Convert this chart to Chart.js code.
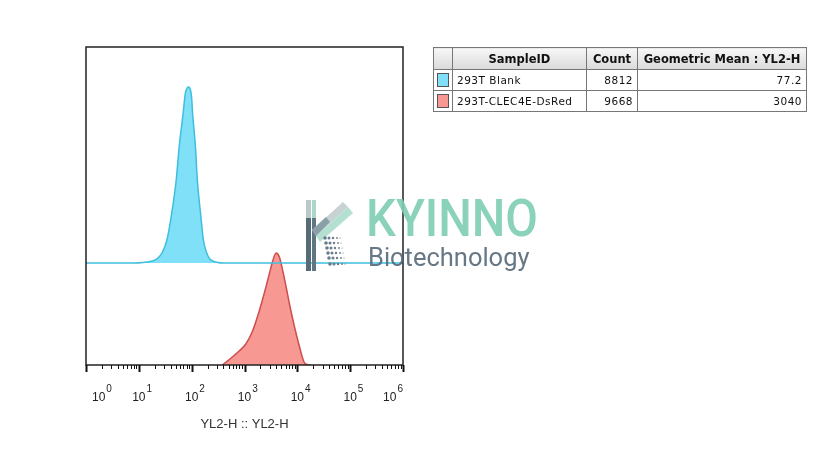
<!DOCTYPE html>
<html>
<head>
<meta charset="utf-8">
<script src="https://cdn.jsdelivr.net/npm/chart.js@4.4.1/dist/chart.umd.min.js"></script>
<style>
  body { margin: 0; background: #fff; }
  #wrap { position: relative; width: 836px; height: 472px; overflow: hidden; }
  #hist { position: absolute; left: 0; top: 0; }
  table.stats {
    position: absolute; left: 433px; top: 47px;
    border-collapse: collapse; border: 1px solid #444;
    font-family: "DejaVu Sans", Verdana, sans-serif; color: #111;
  }
  table.stats th {
    height: 21px; font-size: 11.5px; font-weight: bold; text-align: center;
    background: linear-gradient(#f7f7f7, #dadada);
    border: 1px solid #777; padding: 0 2px;
  }
  table.stats td {
    height: 20px; font-size: 10.5px; letter-spacing: 0.5px;
    border: 1px solid #777; padding: 0 4px;
  }
  table.stats td.num { text-align: right; }
  .sw { display: inline-block; width: 10px; height: 12px; border: 1px solid #555; vertical-align: middle; }
  #logo { position: absolute; left: 298px; top: 196px; pointer-events: none; }
  #logo .k {
    position: absolute; left: 68px; top: -3px; font-family: Roboto, sans-serif; font-weight: 500;
    font-size: 52px; line-height: 52px; color: rgba(125, 205, 178, 0.9);
    transform: scaleX(0.91); transform-origin: left top;
  }
  #logo .b {
    position: absolute; left: 70px; top: 46px; font-family: Roboto, sans-serif;
    font-size: 26px; line-height: 30px; color: rgba(85, 104, 120, 0.9);
    transform: scaleX(0.98); transform-origin: left top;
  }
</style>
</head>
<body>
<div id="wrap">
  <canvas id="hist" width="836" height="472"></canvas>

  <table class="stats" id="stats">
    <tr><th style="width:12px"></th><th style="width:129px">SampleID</th><th style="width:46px">Count</th><th style="width:164px">Geometric Mean : YL2-H</th></tr>
  </table>

  <div id="logo">
    <svg width="70" height="80" viewBox="0 0 70 80">
      <rect x="8" y="4" width="5" height="18" fill="#b9c9c9"/>
      <rect x="14" y="4" width="4" height="18" fill="#a9d8c8"/>
      <rect x="8" y="22" width="5" height="53" fill="#566b78"/>
      <rect x="14" y="22" width="4" height="53" fill="#627682"/>
      <polygon points="14,34 45,6 50,11 18,40" fill="#c8d2d2"/>
      <polygon points="18,40 50,11 55,17 22,46" fill="#b4e0d2"/>
      <polygon points="14,34 28,21 32,26 18,40" fill="#8aa0a8"/>
      <g fill="#6a7d8a">
        <circle cx="27" cy="42" r="1.8"/><circle cx="31" cy="42" r="1.5"/><circle cx="35" cy="42" r="1.2"/><circle cx="39" cy="42" r="0.9"/><circle cx="42" cy="42" r="0.6"/>
        <circle cx="28" cy="47" r="1.8"/><circle cx="32" cy="47" r="1.5"/><circle cx="36" cy="47" r="1.2"/><circle cx="40" cy="47" r="0.9"/><circle cx="43" cy="47" r="0.6"/>
        <circle cx="29" cy="52" r="1.8"/><circle cx="33" cy="52" r="1.5"/><circle cx="37" cy="52" r="1.2"/><circle cx="41" cy="52" r="0.9"/><circle cx="44" cy="52" r="0.6"/>
        <circle cx="30" cy="57" r="1.8"/><circle cx="34" cy="57" r="1.5"/><circle cx="38" cy="57" r="1.2"/><circle cx="42" cy="57" r="0.9"/><circle cx="45" cy="57" r="0.6"/>
        <circle cx="31" cy="62" r="1.8"/><circle cx="35" cy="62" r="1.5"/><circle cx="39" cy="62" r="1.2"/><circle cx="43" cy="62" r="0.9"/><circle cx="46" cy="62" r="0.6"/>
        <circle cx="32" cy="68" r="1.8"/><circle cx="36" cy="68" r="1.5"/><circle cx="40" cy="68" r="1.2"/><circle cx="44" cy="68" r="0.9"/><circle cx="47" cy="68" r="0.6"/>
      </g>
    </svg>
    <div class="k">KYINNO</div>
    <div class="b">Biotechnology</div>
  </div>
</div>

<script>
// samples (legend table)
const sampleIds = ['293T Blank', '293T-CLEC4E-DsRed'];
const sampleCounts = [8812, 9668];
const geoMeans = ['77.2', '3040'];
const sampleFill = ['rgb(128, 224, 247)', 'rgb(248, 152, 146)'];
const sampleLine = ['rgb(62, 190, 222)', 'rgb(205, 78, 78)'];

// histogram channel values (YL2-H) and heights
const blankX = [1, 8, 12, 18, 23, 28, 34, 42, 51, 58, 69, 76, 82, 88, 95, 100, 104, 118, 128, 147, 167, 208, 250, 309, 400, 1000000];
const blankY = [0, 0, 0.5, 2, 5, 11, 23, 50, 83, 116, 150, 170, 175, 176, 173, 165, 150, 116, 83, 50, 23, 6, 2, 0.5, 0, 0];

const dsredX = [380, 450, 530, 650, 789, 1059, 1422, 1900, 2548, 2945, 3420, 3955, 4573, 5305, 6136, 7100, 8850, 11020, 13130, 14330, 18000];
const dsredY = [0, 3, 6, 10, 14, 21, 34, 54, 78, 91, 104, 112, 108, 94, 78, 61, 38, 18, 4, 1, 0];

// axis decades
const decades = [0, 1, 2, 3, 4, 5, 6];
const axisTitle = 'YL2-H :: YL2-H';

// build the stats table
const tbl = document.getElementById('stats');
sampleIds.forEach((id, i) => {
    const tr = document.createElement('tr');
    tr.innerHTML = '<td style="padding:0 3px"><span class="sw" style="background:' + sampleFill[i] + '"></span></td>' +
        '<td>' + id + '</td><td class="num">' + sampleCounts[i] + '</td><td class="num">' + geoMeans[i] + '</td>';
    tbl.appendChild(tr);
});

const toPoints = (xs, ys) => xs.map((v, i) => ({ x: v, y: ys[i] }));

const flowAxis = {
    id: 'flowAxis',
    afterDraw(chart) {
        const { ctx, chartArea: a, scales: { x } } = chart;
        ctx.save();

        // frame
        ctx.strokeStyle = '#222';
        ctx.lineWidth = 1.5;
        ctx.strokeRect(a.left, a.top, a.right - a.left, a.bottom - a.top);

        // major + minor ticks
        ctx.strokeStyle = '#111';
        decades.forEach(d => {
            for (let m = 1; m <= 9; m++) {
                if (d === 6 && m > 1) break;
                const px = Math.round(x.getPixelForValue(m * Math.pow(10, d))) + 0.5;
                const major = m === 1;
                ctx.lineWidth = major ? 2 : 1;
                ctx.beginPath();
                ctx.moveTo(px, a.bottom);
                ctx.lineTo(px, a.bottom + (major ? 7 : 4));
                ctx.stroke();
            }
        });

        // tick labels 10^n
        ctx.fillStyle = '#222';
        ctx.textBaseline = 'alphabetic';
        ctx.textAlign = 'left';
        decades.forEach(d => {
            const px = x.getPixelForValue(Math.pow(10, d));
            ctx.font = '12px "Liberation Sans", Arial, sans-serif';
            const wBase = ctx.measureText('10').width;
            ctx.font = '10px "Liberation Sans", Arial, sans-serif';
            const wSup = ctx.measureText(String(d)).width;
            let left = px - wBase / 2;
            left = Math.max(left, a.left + 6);
            left = Math.min(left, a.right - wBase - wSup - 1);
            ctx.font = '12px "Liberation Sans", Arial, sans-serif';
            ctx.fillText('10', left, 401);
            ctx.font = '10px "Liberation Sans", Arial, sans-serif';
            ctx.fillText(String(d), left + wBase + 1, 392);
        });

        // axis title
        ctx.font = '13px "Liberation Sans", Arial, sans-serif';
        ctx.textAlign = 'center';
        ctx.fillStyle = '#333';
        ctx.fillText(axisTitle, (a.left + a.right) / 2, 428);

        ctx.restore();
    }
};

new Chart(document.getElementById('hist').getContext('2d'), {
    type: 'line',
    data: {
        datasets: [{
            label: sampleIds[0],
            data: toPoints(blankX, blankY),
            yAxisID: 'yBlank',
            borderColor: sampleLine[0],
            backgroundColor: sampleFill[0],
            borderWidth: 1.5,
            fill: 'origin',
            pointRadius: 0,
            cubicInterpolationMode: 'monotone'
        }, {
            label: sampleIds[1],
            data: toPoints(dsredX, dsredY),
            yAxisID: 'yRed',
            borderColor: sampleLine[1],
            backgroundColor: sampleFill[1],
            borderWidth: 1.5,
            fill: 'origin',
            pointRadius: 0,
            cubicInterpolationMode: 'monotone'
        }]
    },
    options: {
        responsive: false,
        animation: false,
        layout: { padding: { left: 86, top: 47, right: 433, bottom: 107 } },
        scales: {
            x: { type: 'logarithmic', min: 1, max: 1000000, display: false },
            // offset histogram: the blank sample sits on its own raised baseline
            yBlank: { type: 'linear', min: -102, max: 216, display: false },
            yRed: { type: 'linear', min: 0, max: 318, display: false }
        },
        plugins: {
            legend: { display: false },
            tooltip: { enabled: false }
        }
    },
    plugins: [flowAxis]
});
</script>
</body>
</html>
